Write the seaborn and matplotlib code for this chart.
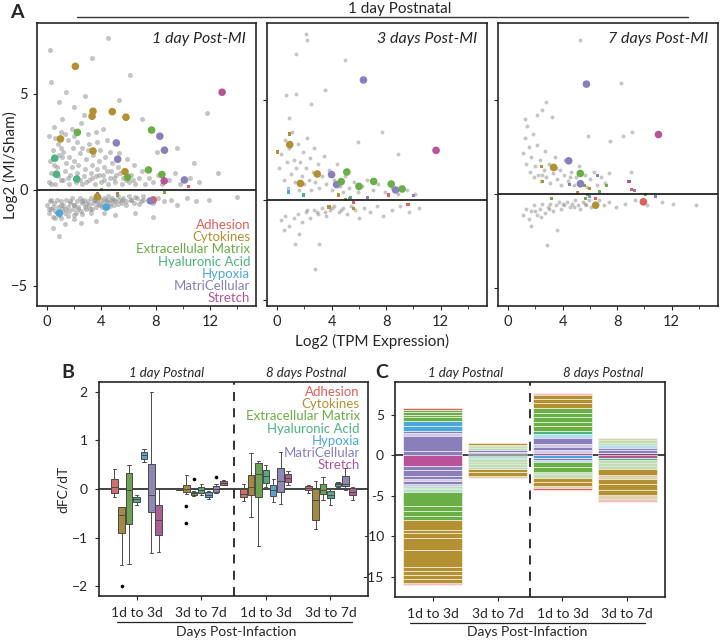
import numpy as np
import pandas as pd
import matplotlib
matplotlib.use("Agg")
import matplotlib.pyplot as plt
from matplotlib.lines import Line2D
from matplotlib.ticker import FixedLocator, FuncFormatter
import seaborn as sns

# ---- categories / colours ----
categories = ["Adhesion", "Cytokines", "Extracellular Matrix", "Hyaluronic Acid",
              "Hypoxia", "MatriCellular", "Stretch"]
cat_colors = ["#e0605a", "#b39132", "#6aae46", "#4db380", "#4aa8dc", "#8a7fbb", "#b8539a"]
palette = dict(zip(categories, cat_colors))

# ---- panel A : MA plots (x = log2 TPM, y = log2 MI/Sham) ----
a_titles = ["1 day Post-MI", "3 days Post-MI", "7 days Post-MI"]

a1_genes = [
    ("Cytokines", 2.08, 6.44), ("Stretch", 12.9, 5.09), ("Cytokines", 3.38, 4.1),
    ("Cytokines", 3.31, 3.84), ("Cytokines", 4.8, 4.08), ("Cytokines", 5.81, 3.79),
    ("Extracellular Matrix", 2.23, 3.0), ("Extracellular Matrix", 7.7, 3.12),
    ("MatriCellular", 8.31, 2.8), ("Cytokines", 0.98, 2.66), ("MatriCellular", 5.1, 2.45),
    ("MatriCellular", 8.65, 2.07), ("Cytokines", 3.38, 2.03), ("Hyaluronic Acid", 0.56, 1.65),
    ("MatriCellular", 5.2, 1.6), ("Extracellular Matrix", 7.47, 1.04), ("Cytokines", 5.74, 0.95),
    ("Hyaluronic Acid", 0.68, 0.82), ("Extracellular Matrix", 8.46, 0.8),
    ("Extracellular Matrix", 5.93, 0.66), ("Hyaluronic Acid", 2.18, 0.57),
    ("MatriCellular", 10.12, 0.52), ("Stretch", 8.63, 0.47), ("Cytokines", 3.7, -0.36),
    ("Adhesion", 7.82, -0.52), ("MatriCellular", 7.62, -0.57), ("Hypoxia", 4.36, -0.9),
    ("Hypoxia", 0.9, -1.21),
]
a1_small = [
    ("Adhesion", 10.4, 0.16), ("Adhesion", 5.2, -0.18), ("Extracellular Matrix", 5.2, -0.3),
    ("Extracellular Matrix", 8.65, -0.12), ("MatriCellular", 3.7, -0.18),
    ("Extracellular Matrix", 4.0, 0.0),
]
a2_genes = [
    ("MatriCellular", 6.33, 6.0), ("Stretch", 11.66, 2.48), ("Cytokines", 0.92, 2.77),
    ("Cytokines", 2.94, 1.3), ("MatriCellular", 3.99, 1.27), ("Extracellular Matrix", 5.11, 1.4),
    ("Cytokines", 1.7, 0.83), ("MatriCellular", 4.36, 0.77), ("Extracellular Matrix", 4.7, 0.92),
    ("Extracellular Matrix", 6.0, 0.68), ("Extracellular Matrix", 7.08, 0.93),
    ("Extracellular Matrix", 8.37, 0.8), ("MatriCellular", 8.69, 0.5),
    ("Extracellular Matrix", 9.17, 0.55),
]
a2_small = [
    ("Cytokines", 0.92, 3.3), ("Cytokines", 0.05, 2.4), ("Hypoxia", 0.85, 0.4),
    ("Hyaluronic Acid", 1.92, 0.25), ("Cytokines", 4.48, 0.25), ("Hypoxia", 5.4, 0.13),
    ("Extracellular Matrix", 5.33, 0.08), ("MatriCellular", 6.6, 0.11), ("Adhesion", 8.2, 0.25),
    ("MatriCellular", 10.0, 0.23), ("Adhesion", 5.6, -0.13), ("Cytokines", 3.8, -0.35),
    ("Cytokines", 5.6, -0.42), ("Adhesion", 9.6, -0.22), ("Cytokines", 5.0, 0.02),
]
a3_genes = [
    ("MatriCellular", 5.74, 5.85), ("Stretch", 11.03, 3.17), ("MatriCellular", 4.44, 1.77),
    ("Cytokines", 3.33, 1.42), ("Extracellular Matrix", 5.29, 1.1), ("MatriCellular", 5.3, 0.55),
    ("Adhesion", 9.92, -0.41), ("Cytokines", 6.42, -0.59),
]
a3_small = [
    ("Cytokines", 2.43, 1.47), ("Cytokines", 2.53, 0.66), ("MatriCellular", 6.54, 0.98),
    ("MatriCellular", 4.49, 0.51), ("Extracellular Matrix", 5.6, 0.44), ("Cytokines", 5.97, 0.3),
    ("Cytokines", 5.09, 0.09), ("Extracellular Matrix", 6.69, 0.14),
    ("Extracellular Matrix", 7.2, 0.46), ("Stretch", 8.87, 0.67), ("Adhesion", 9.02, 0.25),
    ("MatriCellular", 9.3, 0.2), ("Extracellular Matrix", 10.08, -0.04),
    ("MatriCellular", 10.78, -0.11), ("Extracellular Matrix", 3.16, -0.25),
    ("Extracellular Matrix", 5.69, -0.21), ("Hypoxia", 5.99, -0.11), ("Adhesion", 6.39, -0.25),
    ("Cytokines", 5.8, -0.04),
]

# background genes (grey), estimated from the clouds
a1_gray = [
    (0.1, 0.4), (0.3, 0.9), (0.2, 1.5), (0.4, 2.1), (0.1, 2.8), (0.5, 3.3), (0.6, 0.3), (0.8, 0.7),
    (0.7, 1.2), (0.9, 1.8), (0.8, 2.4), (1.0, 3.0), (1.1, 3.7), (1.2, 0.5), (1.3, 1.0), (1.4, 1.4),
    (1.2, 2.0), (1.5, 2.6), (1.6, 0.3), (1.7, 0.8), (1.8, 1.2), (1.6, 1.7), (1.9, 2.2), (1.8, 3.2),
    (2.0, 4.3), (2.1, 0.4), (2.2, 0.9), (2.3, 1.3), (2.4, 1.9), (2.2, 2.5), (2.5, 3.5), (2.6, 0.3),
    (2.7, 0.7), (2.8, 1.1), (2.9, 1.6), (2.6, 2.2), (3.0, 2.9), (3.1, 0.5), (3.2, 0.9), (3.3, 1.3),
    (3.4, 1.8), (3.1, 2.4), (3.5, 0.3), (3.6, 0.7), (3.7, 1.1), (3.8, 1.5), (3.9, 2.1), (3.6, 3.0),
    (4.0, 0.4), (4.1, 0.8), (4.2, 1.2), (4.3, 1.7), (4.4, 2.6), (4.5, 0.3), (4.6, 0.6), (4.7, 1.0),
    (4.8, 1.4), (4.6, 2.0), (5.0, 0.4), (5.1, 0.8), (5.2, 1.2), (5.3, 1.9), (5.5, 0.3), (5.6, 0.6),
    (5.7, 1.0), (5.9, 1.6), (6.0, 0.4), (6.2, 0.8), (6.4, 1.3), (6.5, 0.3), (6.8, 0.6), (7.0, 1.0),
    (7.2, 0.3), (7.5, 0.6), (7.8, 0.4), (8.2, 0.8), (8.5, 0.3), (9.0, 0.5), (9.4, 0.9), (9.8, 0.3),
    (10.5, 0.6), (11.2, 0.4), (0.3, 0.3), (0.5, 1.3), (1.0, 0.5), (1.1, 1.7), (1.5, 0.6), (2.0, 1.5),
    (2.4, 0.5), (2.9, 0.4), (3.3, 0.6), (3.8, 0.8), (4.2, 0.5), (4.4, 1.0), (4.9, 0.6), (5.4, 0.9),
    (5.8, 0.5), (6.3, 0.5), (0.6, 2.7), (1.3, 2.9), (2.0, 2.8), (2.7, 3.9), (0.4, 1.6), (1.0, 2.2),
    (3.0, 2.1), (3.7, 2.5), (4.1, 3.2),
    (0.3, 5.6), (0.9, 4.6), (1.4, 5.1), (2.8, 4.9), (4.5, 7.9), (6.1, 6.0), (7.0, 3.7), (9.6, 2.2),
    (11.8, 4.0), (0.2, 7.3), (3.3, 6.9), (5.3, 4.7), (8.1, 2.0), (10.8, 1.4), (12.6, 0.9),
    (0.0, -0.8), (0.1, -1.2), (0.2, -0.6), (0.3, -1.0), (0.4, -1.4), (0.5, -0.7), (0.6, -1.1),
    (0.7, -0.5), (0.8, -0.9), (0.9, -1.3), (1.0, -0.6), (1.1, -1.0), (1.2, -0.8), (1.3, -1.2),
    (1.4, -0.5), (1.5, -0.9), (1.6, -1.1), (1.7, -0.7), (1.8, -0.4), (1.9, -1.0), (2.0, -0.8),
    (2.1, -1.2), (2.2, -0.6), (2.3, -0.9), (2.4, -0.4), (2.5, -1.1), (2.6, -0.7), (2.7, -0.5),
    (2.8, -0.9), (2.9, -1.0), (3.0, -0.6), (3.1, -0.8), (3.2, -0.4), (3.3, -1.0), (3.4, -0.7),
    (3.5, -0.5), (3.6, -0.9), (3.7, -0.6), (3.8, -0.35), (3.9, -0.8), (4.0, -0.5), (4.1, -0.7),
    (4.2, -0.4), (4.3, -0.9), (4.4, -0.6), (4.5, -0.3), (4.6, -0.7), (4.7, -0.5), (4.8, -0.4),
    (4.9, -0.8), (5.0, -0.6), (5.2, -0.3), (5.3, -0.5), (5.5, -0.7), (5.6, -0.4), (5.8, -0.6),
    (6.0, -0.3), (6.2, -0.5), (6.4, -0.7), (6.6, -0.4), (6.9, -0.6), (7.1, -0.3), (7.4, -0.5),
    (7.8, -0.7), (8.2, -0.4), (8.6, -0.6), (9.1, -0.5), (9.6, -0.8), (10.3, -0.4), (11.0, -0.6),
    (11.9, -0.5), (14.0, -0.35),
    (0.15, -1.0), (0.45, -0.9), (0.75, -1.2), (1.05, -0.8), (1.35, -1.0), (1.65, -0.6),
    (1.95, -0.8), (2.25, -1.0), (2.55, -0.6), (2.85, -0.75), (3.15, -1.0), (3.45, -0.55),
    (3.75, -0.75), (4.05, -0.9), (4.35, -0.5), (4.65, -0.85), (4.95, -0.55), (5.25, -0.75),
    (5.55, -0.5), (5.85, -0.8), (6.15, -0.55), (6.45, -0.35), (6.75, -0.75), (7.05, -0.5),
    (0.3, -0.55), (0.6, -1.45), (1.0, -1.45), (1.5, -1.35), (2.0, -1.3), (2.6, -1.25), (3.2, -1.2),
    (0.4, -2.0), (1.3, -1.8), (2.5, -1.7), (3.6, -1.6), (0.9, -2.4), (5.0, -1.3), (6.5, -1.2),
    (7.8, -1.4), (2.0, -1.5), (4.2, -1.2),
]
a2_gray = [
    (0.1, 1.6), (0.3, 2.3), (0.5, 1.0), (0.6, 3.0), (0.7, 1.9), (0.8, 0.6), (0.9, 2.6), (1.0, 1.3),
    (1.1, 3.4), (1.2, 2.0), (1.3, 0.9), (1.4, 1.6), (1.5, 2.8), (1.6, 0.5), (1.7, 1.9), (1.8, 1.2),
    (1.9, 2.4), (2.0, 0.8), (2.1, 1.6), (2.2, 3.1), (2.3, 1.0), (2.4, 2.1), (2.5, 0.5), (2.6, 1.4),
    (2.7, 2.6), (2.8, 0.9), (3.0, 1.8), (3.1, 0.6), (3.3, 1.2), (3.4, 2.2), (3.6, 0.8), (3.8, 1.5),
    (4.0, 0.5), (4.2, 1.0), (4.4, 1.8), (4.6, 0.7), (4.8, 0.4), (5.0, 1.2), (5.3, 0.6), (5.6, 0.9),
    (5.9, 0.4), (6.2, 0.7), (6.6, 1.0), (7.0, 0.5), (7.4, 0.8), (7.9, 0.4), (8.4, 0.6), (8.9, 0.3),
    (9.5, 0.5), (10.1, 0.3),
    (2.1, 8.3), (1.4, 7.3), (5.0, 7.0), (0.66, 5.25), (1.4, 5.3), (2.5, 4.8), (0.9, 4.1),
    (7.7, 3.4), (5.9, 2.9), (8.9, 2.3), (2.2, 8.0), (3.5, 5.5),
    (0.3, -1.0), (0.6, -0.8), (0.9, -1.3), (1.2, -0.9), (1.5, -0.7), (1.8, -1.1), (2.1, -0.6),
    (2.4, -0.9), (2.7, -0.5), (3.0, -0.7), (3.3, -0.4), (3.6, -0.8), (3.9, -0.5), (4.2, -0.3),
    (4.5, -0.6), (4.8, -0.4), (5.1, -0.7), (5.4, -0.3), (5.7, -0.5), (6.0, -0.9), (6.4, -0.4),
    (6.8, -0.6), (7.3, -0.3), (7.8, -0.8), (8.4, -0.5), (9.0, -0.3), (9.7, -0.6), (10.4, -0.4),
    (2.2, -0.5), (2.9, -0.6), (3.5, -0.6), (4.0, -0.4), (4.7, -0.5), (1.3, -2.2), (2.8, -3.45),
    (3.1, -2.2), (1.6, -1.7), (0.5, -1.5),
]
a3_gray = [
    (1.1, 2.2), (1.2, 3.0), (1.3, 1.6), (1.4, 3.6), (1.5, 2.5), (1.6, 1.2), (1.7, 2.0), (1.8, 3.2),
    (1.9, 0.9), (2.0, 1.5), (2.1, 2.6), (2.2, 1.0), (2.3, 1.8), (2.4, 0.7), (2.6, 1.3), (2.7, 2.3),
    (2.8, 0.9), (3.0, 1.6), (3.1, 0.6), (3.3, 1.1), (3.4, 2.0), (3.6, 0.8), (3.8, 1.3), (3.9, 0.5),
    (4.1, 1.0), (4.2, 1.8), (4.4, 0.7), (4.6, 1.2), (4.8, 0.5), (5.0, 0.9), (5.2, 1.5), (5.4, 0.6),
    (5.6, 1.0), (5.8, 0.4), (6.0, 0.8), (6.3, 1.2), (6.5, 0.5), (6.8, 0.9), (7.1, 0.6), (7.4, 1.1),
    (2.5, 1.0), (3.5, 1.4), (4.5, 0.9),
    (5.24, 8.2), (8.3, 5.9), (2.8, 4.9), (2.5, 4.45), (2.1, 4.2), (9.1, 3.3), (7.5, 2.8),
    (8.4, 3.07), (5.87, 3.07), (3.2, 4.1), (1.2, 4.0), (9.0, 1.2),
    (1.1, -1.1), (1.3, -0.8), (1.5, -1.3), (1.7, -0.9), (1.9, -0.6), (2.1, -1.1), (2.3, -0.8),
    (2.5, -0.5), (2.7, -1.0), (2.9, -0.7), (3.1, -0.5), (3.3, -0.9), (3.5, -0.6), (3.7, -0.4),
    (3.9, -0.8), (4.1, -0.6), (4.3, -0.4), (4.5, -0.7), (4.7, -0.5), (4.9, -0.3), (5.1, -0.6),
    (5.3, -0.8), (5.5, -0.4), (5.7, -0.6), (5.9, -0.3), (6.1, -0.7), (6.4, -0.5), (6.7, -0.3),
    (7.0, -0.6), (7.4, -0.4), (7.9, -0.7), (8.6, -0.5), (9.3, -0.3), (10.2, -0.6), (11.3, -0.4),
    (12.1, -0.5), (13.8, -0.6), (2.85, -2.7), (3.6, -1.9), (1.7, -1.7), (2.0, -0.9), (3.0, -0.8),
    (4.0, -0.5), (4.8, -0.7), (5.6, -0.5), (2.4, -1.2),
]

# ---- panel B : dFC/dT box stats (low whisker, q1, median, q3, high whisker) ----
interval_labels = ["1d to 3d", "3d to 7d", "1d to 3d", "3d to 7d"]
b_groups = ["p1_1to3", "p1_3to7", "p8_1to3", "p8_3to7"]
b_stats = {
    "Adhesion": [(-0.17, -0.08, 0.05, 0.21, 0.42), (-0.02, -0.02, -0.01, 0.0, 0.01),
                 (-0.24, -0.17, -0.1, -0.01, 0.1), (-0.08, -0.03, 0.03, 0.07, 0.08)],
    "Cytokines": [(-1.57, -0.91, -0.53, -0.38, -0.38), (-0.1, -0.07, 0.0, 0.09, 0.29),
                  (-0.58, -0.12, 0.05, 0.29, 0.74), (-0.82, -0.64, -0.23, 0.0, 0.16)],
    "Extracellular Matrix": [(-1.54, -0.71, -0.03, 0.32, 0.49), (-0.14, -0.12, -0.09, -0.06, -0.05),
                             (-1.18, -0.16, 0.31, 0.53, 0.58), (-0.22, -0.1, -0.02, 0.1, 0.25)],
    "Hyaluronic Acid": [(-0.32, -0.27, -0.21, -0.16, -0.12), (-0.12, -0.08, -0.02, 0.04, 0.1),
                        (0.05, 0.12, 0.27, 0.4, 0.5), (-0.33, -0.19, -0.12, -0.05, 0.0)],
    "Hypoxia": [(0.55, 0.61, 0.69, 0.76, 0.82), (-0.2, -0.16, -0.12, -0.07, -0.05),
                (-0.27, -0.15, -0.02, 0.09, 0.2), (0.05, 0.06, 0.1, 0.13, 0.15)],
    "MatriCellular": [(-1.31, -0.48, -0.12, 0.51, 1.99), (-0.08, -0.06, 0.0, 0.06, 0.1),
                      (-0.31, -0.06, 0.16, 0.43, 0.77), (-0.03, 0.07, 0.1, 0.26, 0.43)],
    "Stretch": [(-1.29, -0.95, -0.64, -0.32, 0.0), (0.08, 0.09, 0.12, 0.16, 0.18),
                (0.08, 0.15, 0.23, 0.3, 0.38), (-0.22, -0.13, -0.06, 0.02, 0.05)],
}
b_outliers = [("p1_1to3", "Cytokines", -2.0), ("p1_3to7", "Cytokines", -0.36),
              ("p1_3to7", "Cytokines", -0.71), ("p1_3to7", "Extracellular Matrix", 0.2),
              ("p1_3to7", "MatriCellular", 0.24)]

# ---- panel C : stacked per-gene dFC/dT (category, size, faded) from 0 outward ----
c_up = [
    [("MatriCellular", 0.57, 0), ("MatriCellular", 1.85, 0), ("MatriCellular", 0.3, 1),
     ("MatriCellular", 0.33, 0), ("Hypoxia", 0.55, 0), ("Hypoxia", 0.66, 0),
     ("Extracellular Matrix", 0.45, 0), ("Extracellular Matrix", 0.3, 0),
     ("Extracellular Matrix", 0.35, 0), ("Extracellular Matrix", 0.3, 0), ("Adhesion", 0.2, 0)],
    [("Stretch", 0.2, 1), ("MatriCellular", 0.2, 1), ("MatriCellular", 0.2, 0),
     ("Extracellular Matrix", 0.25, 1), ("Extracellular Matrix", 0.25, 1),
     ("Cytokines", 0.2, 1), ("Cytokines", 0.2, 0)],
    [("Stretch", 0.25, 0), ("MatriCellular", 0.4, 1), ("MatriCellular", 0.35, 0),
     ("MatriCellular", 0.4, 1), ("MatriCellular", 0.8, 0), ("Hypoxia", 0.4, 1),
     ("Hyaluronic Acid", 0.4, 0), ("Extracellular Matrix", 0.6, 0), ("Extracellular Matrix", 0.5, 0),
     ("Extracellular Matrix", 0.6, 0), ("Extracellular Matrix", 0.5, 0),
     ("Extracellular Matrix", 0.7, 0), ("Cytokines", 0.6, 0), ("Cytokines", 0.5, 0),
     ("Cytokines", 0.5, 0), ("Adhesion", 0.15, 1)],
    [("Stretch", 0.25, 1), ("MatriCellular", 0.35, 0), ("MatriCellular", 0.35, 0),
     ("Hypoxia", 0.3, 1), ("Extracellular Matrix", 0.3, 1), ("Extracellular Matrix", 0.3, 1),
     ("Cytokines", 0.35, 1)],
]
c_down = [
    [("Stretch", 1.3, 0), ("MatriCellular", 0.55, 0), ("MatriCellular", 0.75, 0),
     ("MatriCellular", 0.3, 0), ("MatriCellular", 0.25, 1), ("MatriCellular", 0.35, 0),
     ("MatriCellular", 0.25, 1), ("Hyaluronic Acid", 0.25, 1), ("Extracellular Matrix", 0.2, 1),
     ("Hyaluronic Acid", 0.3, 1), ("Extracellular Matrix", 1.7, 0), ("Extracellular Matrix", 0.7, 0),
     ("Extracellular Matrix", 0.55, 0), ("Extracellular Matrix", 0.55, 0), ("Cytokines", 1.2, 0),
     ("Cytokines", 0.35, 0), ("Cytokines", 0.6, 0), ("Cytokines", 1.6, 0), ("Cytokines", 2.0, 0),
     ("Cytokines", 0.5, 0), ("Cytokines", 0.5, 0), ("Cytokines", 0.5, 0), ("Cytokines", 0.5, 0),
     ("Adhesion", 0.3, 1)],
    [("Hyaluronic Acid", 0.3, 1), ("Hypoxia", 0.2, 0), ("Extracellular Matrix", 0.3, 1),
     ("Extracellular Matrix", 0.3, 1), ("Extracellular Matrix", 0.3, 1),
     ("Hyaluronic Acid", 0.25, 1), ("Cytokines", 0.45, 0), ("Cytokines", 0.45, 0),
     ("Cytokines", 0.3, 1)],
    [("Hypoxia", 0.3, 0), ("MatriCellular", 0.25, 0), ("Hypoxia", 0.3, 1),
     ("Extracellular Matrix", 0.6, 0), ("Extracellular Matrix", 0.55, 0),
     ("Extracellular Matrix", 0.35, 1), ("Extracellular Matrix", 0.4, 1), ("Cytokines", 0.55, 0),
     ("Cytokines", 0.45, 0), ("Cytokines", 0.3, 1), ("Adhesion", 0.2, 0)],
    [("Stretch", 0.3, 0), ("Hyaluronic Acid", 0.3, 0), ("Extracellular Matrix", 0.35, 1),
     ("Extracellular Matrix", 0.35, 1), ("Extracellular Matrix", 0.4, 1), ("Cytokines", 0.7, 0),
     ("Cytokines", 0.5, 1), ("Cytokines", 0.7, 0), ("Cytokines", 0.7, 0), ("Cytokines", 0.6, 0),
     ("Cytokines", 0.5, 1), ("Adhesion", 0.4, 1)],
]

# ---------------------------------------------------------------------------
sns.set_style("ticks")
plt.rcParams["font.family"] = ["Lato", "DejaVu Sans"]
plt.rcParams["axes.linewidth"] = 1.2
plt.rcParams["xtick.major.size"] = 3
plt.rcParams["ytick.major.size"] = 3
plt.rcParams["xtick.minor.size"] = 2

fig = plt.figure(figsize=(7.2, 6.4), dpi=100)


def px_axes(l, t, r, b):
    return fig.add_axes([l / 720, 1 - b / 640, (r - l) / 720, (b - t) / 640])


a_boxes = [(37, 23, 256, 306), (267, 23, 487, 306), (498, 23, 718, 306)]
a_ylims = [(-6.05, 8.7), (-5.3, 8.85), (-5.95, 9.1)]
a_gray_size = [13, 8, 8]
a_genes = [a1_genes, a2_genes, a3_genes]
a_small = [a1_small, a2_small, a3_small]
a_gray = [a1_gray, a2_gray, a3_gray]

for i in range(3):
    ax = px_axes(*a_boxes[i])
    gray = pd.DataFrame(a_gray[i], columns=["x", "y"])
    sns.scatterplot(data=gray, x="x", y="y", color="#8c8c8c", s=a_gray_size[i], alpha=0.5,
                    linewidth=0, ax=ax)
    small = pd.DataFrame(a_small[i], columns=["cat", "x", "y"])
    sns.scatterplot(data=small, x="x", y="y", hue="cat", palette=palette, marker="s",
                    s=5, linewidth=0, legend=False, ax=ax)
    genes = pd.DataFrame(a_genes[i], columns=["cat", "x", "y"])
    sns.scatterplot(data=genes, x="x", y="y", hue="cat", palette=palette, s=30,
                    linewidth=0, legend=False, ax=ax)
    ax.axhline(0, color="#222222", lw=1.3, zorder=3)
    ax.set_xlim(-0.75, 15.4)
    ax.set_ylim(*a_ylims[i])
    ax.xaxis.set_major_locator(FixedLocator([0, 4, 8, 12]))
    ax.xaxis.set_minor_locator(FixedLocator([2, 6, 10, 14]))
    ax.yaxis.set_major_locator(FixedLocator([-5, 0, 5]))
    ax.tick_params(labelsize=10.5)
    ax.set_xlabel("")
    ax.set_ylabel("")
    if i > 0:
        ax.set_yticklabels([])
        ax.tick_params(axis="y", length=3)
    ax.text(0.955, 0.945, a_titles[i], transform=ax.transAxes, ha="right", va="center",
            fontsize=11.5, style="italic")
    if i == 0:
        for k, c in enumerate(categories):
            ax.text(0.973, 0.286 - k * 0.0431, c, color=cat_colors[k], transform=ax.transAxes,
                    ha="right", va="center", fontsize=9.5)

fig.text(10 / 720, 1 - 12 / 640, "A", fontsize=14, fontweight="bold", va="center")
fig.text(400 / 720, 1 - 9 / 640, "1 day Postnatal", fontsize=11, ha="center", va="center")
fig.add_artist(Line2D([77 / 720, 688 / 720], [1 - 17 / 640, 1 - 17 / 640], color="#333333", lw=1))
fig.text(10 / 720, 1 - 165 / 640, "Log2 (MI/Sham)", fontsize=11, rotation=90,
         ha="center", va="center")
fig.text(372 / 720, 1 - 341 / 640, "Log2 (TPM Expression)", fontsize=11, ha="center", va="center")

# ---- panel B ----
rows = []
for cat in categories:
    for g, stats in zip(b_groups, b_stats[cat]):
        for v in stats:
            rows.append((g, cat, v))
b_df = pd.DataFrame(rows, columns=["group", "category", "dfc"])
out_df = pd.DataFrame(b_outliers, columns=["group", "category", "dfc"])

axb = px_axes(99, 382, 368, 596)
axb.axhline(0, color="#222222", lw=1.2, zorder=0)
sns.boxplot(data=b_df, x="group", y="dfc", hue="category", order=b_groups,
            hue_order=categories, palette=palette, width=0.8, gap=0.12, whis=(0, 100),
            linewidth=0.7, linecolor="#4a4a4a", legend=False, ax=axb)
sns.stripplot(data=out_df, x="group", y="dfc", hue="category", order=b_groups,
              hue_order=categories, palette={c: "black" for c in categories}, dodge=True,
              jitter=False, size=2.6, legend=False, ax=axb)
axb.axvline(1.5, color="#222222", lw=1.3, ls=(0, (5, 4)))
axb.set_xlim(-0.58, 3.58)
axb.set_ylim(-2.2, 2.2)
axb.set_yticks([-2, -1, 0, 1, 2])
axb.set_xticks(range(4))
axb.set_xticklabels(interval_labels)
axb.tick_params(labelsize=10, pad=5)
axb.set_xlabel("")
axb.set_ylabel("dFC/dT", fontsize=10, labelpad=2)
for k, c in enumerate(categories):
    axb.text(0.97, 0.955 - k * 0.0575, c, color=cat_colors[k], transform=axb.transAxes,
             ha="right", va="center", fontsize=9.5)
axb.text(0.25, 1.04, "1 day Postnal", transform=axb.transAxes, ha="center", va="center",
         fontsize=9.5, style="italic")
axb.text(0.77, 1.04, "8 days Postnal", transform=axb.transAxes, ha="center", va="center",
         fontsize=9.5, style="italic")
axb.plot([0.067, 0.94], [-0.123, -0.123], color="#222222", lw=0.9,
         transform=axb.transAxes, clip_on=False)
axb.text(0.51, -0.168, "Days Post-Infaction", transform=axb.transAxes, ha="center",
         va="center", fontsize=10)
fig.text(68 / 720, 1 - 372 / 640, "B", fontsize=14, fontweight="bold", va="center", ha="center")

# ---- panel C ----
axc = px_axes(395, 382, 665, 597)
axc.axhline(0, color="#222222", lw=1.2, zorder=0)
for i in range(4):
    base = 0.0
    for cat, h, faded in c_up[i]:
        axc.bar(i, h, bottom=base, width=0.9, color=palette[cat], alpha=0.4 if faded else 1.0,
                edgecolor="white", linewidth=0.4)
        base += h
    base = 0.0
    for cat, h, faded in c_down[i]:
        axc.bar(i, -h, bottom=base, width=0.9, color=palette[cat], alpha=0.4 if faded else 1.0,
                edgecolor="white", linewidth=0.4)
        base -= h
axc.axvline(1.5, color="#222222", lw=1.3, ls=(0, (5, 4)))
axc.set_xlim(-0.58, 3.58)
axc.set_ylim(-17.5, 9.06)
axc.set_yticks([-15, -10, -5, 0, 5])
axc.yaxis.set_major_formatter(FuncFormatter(lambda v, p: f"{v:.0f}".replace("\u2212", "-")))
axc.set_xticks(range(4))
axc.set_xticklabels(interval_labels)
axc.tick_params(labelsize=10, pad=5)
axc.text(0.26, 1.04, "1 day Postnal", transform=axc.transAxes, ha="center", va="center",
         fontsize=9.5, style="italic")
axc.text(0.77, 1.04, "8 days Postnal", transform=axc.transAxes, ha="center", va="center",
         fontsize=9.5, style="italic")
axc.plot([0.056, 0.926], [-0.121, -0.121], color="#222222", lw=0.9,
         transform=axc.transAxes, clip_on=False)
axc.text(0.49, -0.163, "Days Post-Infaction", transform=axc.transAxes, ha="center",
         va="center", fontsize=10)
fig.text(382 / 720, 1 - 372 / 640, "C", fontsize=14, fontweight="bold", va="center", ha="center")

fig.savefig("out.png", dpi=100)
